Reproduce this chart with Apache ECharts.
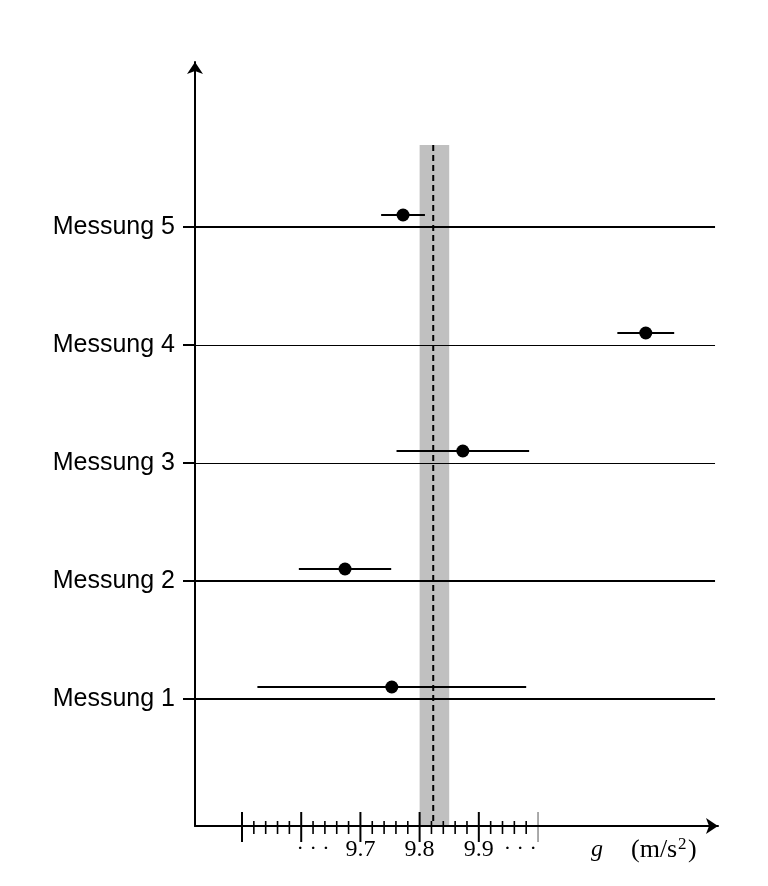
<!DOCTYPE html>
<html>
<head>
<meta charset="utf-8">
<script src="https://cdn.jsdelivr.net/npm/echarts@6/dist/echarts.min.js"></script>
<style>
  html, body { margin: 0; background: #fff; }
  #main { width: 768px; height: 886px; }
</style>
</head>
<body>
<div id="main"></div>
<script>
// measurements of g, one row per Messung
var categories = ['Messung 1', 'Messung 2', 'Messung 3', 'Messung 4', 'Messung 5']
var gValues = [9.753, 9.674, 9.873, 10.182, 9.772]
var gErrors = [0.227, 0.078, 0.112, 0.048, 0.037]

// reference value with its band
var refValue = 9.823
var refBand = [9.800, 9.850]
var bandTop = 5.695

// x axis ticks and labels
var majorTicks = [9.5, 9.6, 9.7, 9.8, 9.9, 10.0]
var minorTicks = [9.52, 9.54, 9.56, 9.58, 9.62, 9.64, 9.66, 9.68, 9.72, 9.74, 9.76, 9.78,
  9.82, 9.84, 9.86, 9.88, 9.92, 9.94, 9.96, 9.98]
var tickLabelValues = [9.62, 9.7, 9.8, 9.9, 9.97]
var tickLabelTexts = ['dots', '9.7', '9.8', '9.9', 'dots']

var xMin = 9.4206, xMax = 10.304, lineEnd = 10.299
var yMin = -0.076, yMax = 6.398
var rowLineWidths = [2, 2, 1, 1, 2]

var chartDom = document.getElementById('main')
var myChart = echarts.init(chartDom)
var option

var rows = categories.map(function (c, i) { return i + 1 })

option = {
  backgroundColor: '#fff',
  animation: false,
  grid: { left: 195, right: 50, top: 62, bottom: 60 },
  xAxis: {
    type: 'value',
    min: xMin,
    max: xMax,
    z: 10,
    axisLine: {
      show: true,
      onZero: false,
      symbol: ['none', 'arrow'],
      symbolSize: [12, 12],
      lineStyle: { color: '#000', width: 2 }
    },
    axisTick: { show: false },
    splitLine: { show: false },
    axisLabel: {
      customValues: tickLabelValues,
      margin: 12,
      color: '#000',
      fontFamily: 'Liberation Serif',
      fontSize: 24,
      formatter: function (v) {
        var i = tickLabelValues.indexOf(v)
        var t = tickLabelTexts[i]
        return t === 'dots' ? '{d|\u00b7 \u00b7 \u00b7}' : t
      },
      rich: {
        d: { fontFamily: 'Liberation Serif', fontSize: 22, color: '#000' }
      }
    }
  },
  yAxis: {
    type: 'value',
    min: yMin,
    max: yMax,
    z: 10,
    axisLine: {
      show: true,
      onZero: false,
      symbol: ['none', 'arrow'],
      symbolSize: [12, 12],
      lineStyle: { color: '#000', width: 2 }
    },
    axisTick: {
      show: true,
      customValues: rows,
      length: 12,
      lineStyle: { color: '#000', width: 2 }
    },
    splitLine: { show: false },
    axisLabel: {
      customValues: rows,
      margin: 20,
      color: '#000',
      fontFamily: 'Liberation Sans',
      fontSize: 25,
      padding: [6, 0, 0, 0],
      formatter: function (v) { return categories[v - 1] }
    }
  },
  graphic: [
    { type: 'text', left: 591, top: 838, style: { text: 'g', font: 'italic 24px "Liberation Serif"', fill: '#000' } },
    { type: 'text', left: 631, top: 837, style: { text: '(m/s', font: '26px "Liberation Serif"', fill: '#000' } },
    { type: 'text', left: 678, top: 836, style: { text: '2', font: '17px "Liberation Serif"', fill: '#000' } },
    { type: 'text', left: 688, top: 837, style: { text: ')', font: '26px "Liberation Serif"', fill: '#000' } }
  ],
  series: [
    {
      // reference band
      type: 'custom',
      z: 1,
      clip: false,
      data: [[refBand[0], refBand[1]]],
      renderItem: function (params, api) {
        var a = api.coord([api.value(0), bandTop])
        var b = api.coord([api.value(1), yMin])
        return { type: 'rect', shape: { x: a[0], y: a[1], width: b[0] - a[0], height: b[1] - a[1] }, style: { fill: '#c0c0c0' } }
      }
    },
    {
      // row lines
      type: 'custom',
      z: 2,
      clip: false,
      data: rows.map(function (r, i) { return [r, rowLineWidths[i]] }),
      renderItem: function (params, api) {
        var w = api.value(1)
        var a = api.coord([xMin, api.value(0)])
        var b = api.coord([lineEnd, api.value(0)])
        var y = w === 1 ? Math.round(a[1]) + 0.5 : Math.round(a[1])
        return { type: 'line', shape: { x1: a[0], y1: y, x2: b[0], y2: y }, style: { stroke: '#000', lineWidth: w } }
      }
    },
    {
      // dashed reference line
      type: 'custom',
      z: 3,
      clip: false,
      data: [[refValue]],
      renderItem: function (params, api) {
        var a = api.coord([api.value(0), bandTop])
        var b = api.coord([api.value(0), yMin])
        return { type: 'line', shape: { x1: a[0], y1: a[1], x2: b[0], y2: b[1] }, style: { stroke: '#000', lineWidth: 2, lineDash: [6, 4] } }
      }
    },
    {
      // x ticks
      type: 'custom',
      z: 4,
      clip: false,
      data: majorTicks.map(function (v) { return [v, 1] }).concat(minorTicks.map(function (v) { return [v, 0] })),
      renderItem: function (params, api) {
        var p = api.coord([api.value(0), yMin])
        var major = api.value(1) === 1
        var last = api.value(0) === majorTicks[majorTicks.length - 1]
        var up = major ? 14 : 5, down = major ? 16 : 8
        return {
          type: 'line',
          shape: { x1: p[0], y1: p[1] - up, x2: p[0], y2: p[1] + down },
          style: { stroke: last ? '#555' : '#000', lineWidth: last ? 1 : (major ? 2 : 1.6) }
        }
      }
    },
    {
      // measurements with error bars
      type: 'custom',
      z: 5,
      clip: false,
      data: gValues.map(function (v, i) { return [v, i + 1, gErrors[i]] }),
      renderItem: function (params, api) {
        var v = api.value(0), r = api.value(1), e = api.value(2)
        var p = api.coord([v, r])
        var lo = api.coord([v - e, r])
        var hi = api.coord([v + e, r])
        var y = p[1] - 12
        return {
          type: 'group',
          children: [
            { type: 'line', shape: { x1: lo[0], y1: y, x2: hi[0], y2: y }, style: { stroke: '#000', lineWidth: 2 } },
            { type: 'circle', shape: { cx: p[0], cy: y, r: 6.5 }, style: { fill: '#000' } }
          ]
        }
      }
    }
  ]
}

option && myChart.setOption(option)
</script>
</body>
</html>
